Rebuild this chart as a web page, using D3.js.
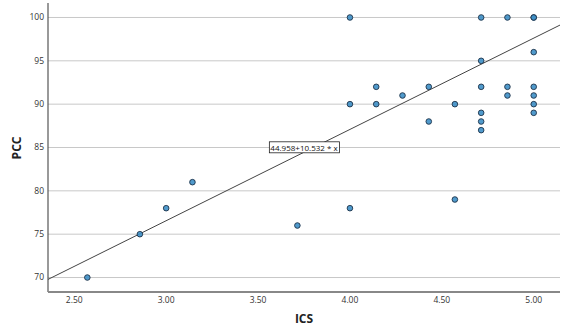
<!DOCTYPE html>
<html><head><meta charset="utf-8">
<script src="https://cdn.jsdelivr.net/npm/d3@7"></script>
<style>body{margin:0;background:#fff;} text{font-family:"Open Sans","DejaVu Sans",sans-serif;}</style>
</head><body>
<svg id="c" width="566" height="333"></svg>
<script>
const icsValues = [2.571,2.857,3.000,3.143,3.714,4.000,4.000,4.000,4.143,4.143,4.286,4.429,4.429,4.571,4.571,
  4.714,4.714,4.714,4.714,4.714,4.714,4.857,4.857,4.857,5.000,5.000,5.000,5.000,5.000,5.000,5.000];
const pccValues = [70,75,78,81,76,100,90,78,92,90,91,92,88,90,79,
  100,95,92,89,88,87,100,92,91,100,100,96,92,91,90,89];
const xTicks = [2.5,3.0,3.5,4.0,4.5,5.0];
const yTicks = [70,75,80,85,90,95,100];
const fitIntercept = 44.958, fitSlope = 10.532;
const fitLabel = "44.958+10.532 * x";

const svg = d3.select("#c");
const L = 48, R = 560, T = 3, B = 292;
const x = d3.scaleLinear().domain([2.357, 5.143]).range([L, R]);
const y = d3.scaleLinear().domain([68.33, 101.67]).range([B, T]);

// gridlines
svg.append("g").selectAll("line").data(yTicks).join("line")
  .attr("x1", L).attr("x2", R).attr("y1", d => y(d)).attr("y2", d => y(d))
  .attr("stroke", "#c8c8c8").attr("stroke-width", 1);

// axes lines
svg.append("line").attr("x1", L).attr("x2", L).attr("y1", T).attr("y2", B)
  .attr("stroke", "#555").attr("stroke-width", 1.2);
svg.append("line").attr("x1", L).attr("x2", R).attr("y1", B).attr("y2", B)
  .attr("stroke", "#888").attr("stroke-width", 2);

// tick labels
svg.append("g").selectAll("text").data(yTicks).join("text")
  .attr("x", 44).attr("y", d => y(d)).attr("dy", "0.35em")
  .attr("text-anchor", "end").attr("font-size", 8.5).attr("fill", "#333")
  .text(d => d);
svg.append("g").selectAll("text").data(xTicks).join("text")
  .attr("x", d => x(d)).attr("y", 303)
  .attr("text-anchor", "middle").attr("font-size", 8.5).attr("fill", "#333")
  .text(d => d3.format(".2f")(d));

// titles
svg.append("text").attr("x", 304).attr("y", 323).attr("text-anchor", "middle")
  .attr("font-size", 12).attr("font-weight", "bold").attr("fill", "#222").text("ICS");
svg.append("text").attr("transform", "translate(21,148) rotate(-90)").attr("text-anchor", "middle")
  .attr("font-size", 12).attr("font-weight", "bold").attr("fill", "#222").text("PCC");

// fit line
const xd = x.domain();
svg.append("line")
  .attr("x1", x(xd[0])).attr("y1", y(fitIntercept + fitSlope * xd[0]))
  .attr("x2", x(xd[1])).attr("y2", y(fitIntercept + fitSlope * xd[1]))
  .attr("stroke", "#444").attr("stroke-width", 1);

// points
svg.append("g").selectAll("circle").data(icsValues.map((v, i) => [v, pccValues[i]])).join("circle")
  .attr("cx", d => x(d[0])).attr("cy", d => y(d[1])).attr("r", 2.8)
  .attr("fill", "#3d8fc6").attr("fill-opacity", 0.9)
  .attr("stroke", "#1d3248").attr("stroke-width", 0.9);

// fit label
const lg = svg.append("g");
const lt = lg.append("text").attr("x", 304).attr("y", 148).attr("dy", "0.35em")
  .attr("text-anchor", "middle").attr("font-size", 8).attr("fill", "#111").text(fitLabel);
const bb = lt.node().getBBox();
lg.insert("rect", "text").attr("x", bb.x - 1).attr("y", bb.y).attr("width", bb.width + 2).attr("height", bb.height)
  .attr("fill", "#fff").attr("stroke", "#222").attr("stroke-width", 0.8);
</script>
</body></html>
